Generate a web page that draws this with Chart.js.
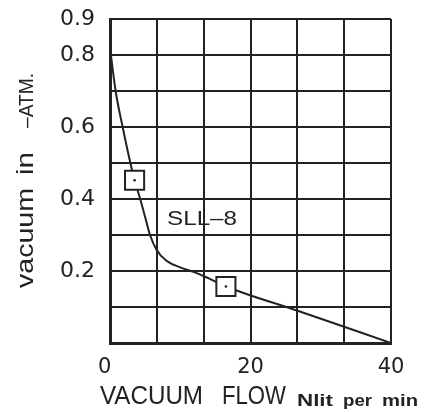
<!DOCTYPE html>
<html><head><meta charset="utf-8">
<script src="https://cdn.jsdelivr.net/npm/chart.js@4"></script>
<style>html,body{margin:0;padding:0;background:#fff}#wrap{width:428px;height:412px}</style>
</head><body><div id="wrap"><canvas id="c" width="428" height="412"></canvas></div>
<script>
// ---- data ----
const flowX   = [0,    0.8,  1.8,  2.9,  3.5,   4.3,  5.0,  5.7,  6.6,  8.0,   10.0, 12.0,  14.0, 16.5,  26.5,  40];
const vacuumY = [0.82, 0.70, 0.60, 0.50, 0.452, 0.40, 0.35, 0.30, 0.26, 0.229, 0.21, 0.197, 0.18, 0.157, 0.091, 0];
const markerX = [3.5, 16.5];
const markerY = [0.452, 0.157];
const xTickLabels = [0, 20, 40];
const yTickLabels = [0.2, 0.4, 0.6, 0.8, 0.9];
const xGridCount = 6;
const seriesLabel = 'SLL\u20138';

const ink = '#222';
Chart.defaults.font.family = "'DejaVu Sans', sans-serif";
Chart.defaults.color = ink;

function fitText(ctx, text, x, y, font, width, rot) {
  ctx.save();
  ctx.font = font;
  const w = ctx.measureText(text).width;
  ctx.translate(x, y);
  if (rot) ctx.rotate(rot);
  ctx.scale(width / w, 1);
  ctx.textAlign = 'left';
  ctx.textBaseline = 'alphabetic';
  ctx.fillText(text, 0, 0);
  ctx.restore();
}

const textPlugin = {
  id: 'texts',
  afterDraw(chart) {
    const ctx = chart.ctx;
    const xs = chart.scales.x, ys = chart.scales.y;
    ctx.save();
    ctx.fillStyle = ink;
    const big = "25px 'Liberation Sans', Arial, sans-serif";
    const small = "bold 16px 'Liberation Sans', Arial, sans-serif";
    fitText(ctx, 'VACUUM', 100, 404, big, 103);
    fitText(ctx, 'FLOW', 222, 404, big, 64);
    fitText(ctx, 'Nlit', 297, 406, small, 36);
    fitText(ctx, 'per', 343, 406, small, 29);
    fitText(ctx, 'min', 382, 406, small, 36);
    // series label
    fitText(ctx, seriesLabel, xs.getPixelForValue(13.1) - 35, ys.getPixelForValue(0.345) + 6,
            "21px 'Liberation Sans', Arial, sans-serif", 70);
    // y title (rotated)
    const r = -Math.PI / 2;
    fitText(ctx, 'vacuum', 33, 288, "24px 'Liberation Sans', Arial, sans-serif", 100, r);
    fitText(ctx, 'in', 33, 175, "24px 'Liberation Sans', Arial, sans-serif", 23, r);
    fitText(ctx, '\u2013ATM.', 33, 128, "21px 'Liberation Sans', Arial, sans-serif", 55, r);
    ctx.restore();
  }
};

const points  = flowX.map((x, i) => ({x, y: vacuumY[i]}));
const markers = markerX.map((x, i) => ({x, y: markerY[i]}));

new Chart(document.getElementById('c'), {
  type: 'line',
  data: { datasets: [
    {label: 'dot', data: markers, showLine: false, pointStyle: 'circle', pointRadius: 1.3,
     pointBackgroundColor: ink, pointBorderWidth: 0},
    {label: 'mark', data: markers, showLine: false, pointStyle: 'rect', pointRadius: 13.5,
     pointBackgroundColor: '#fff', pointBorderColor: ink, pointBorderWidth: 2},
    {label: seriesLabel, data: points, borderColor: ink, borderWidth: 2, pointRadius: 0,
     cubicInterpolationMode: 'monotone', fill: false}
  ]},
  options: {
    responsive: false, animation: false, devicePixelRatio: 1,
    layout: {padding: 0},
    plugins: {legend: {display: false}, tooltip: {enabled: false}},
    scales: {
      x: {
        type: 'linear', min: 0, max: 40,
        afterBuildTicks(s) { s.ticks = Array.from({length: xGridCount + 1}, (_, i) => ({value: s.max * i / xGridCount})); },
        afterFit(s) { s.height = 69; s.paddingLeft = 0; s.paddingRight = 37; },
        grid: {color: ink, lineWidth: 2, drawTicks: false},
        border: {color: ink, width: 3},
        ticks: {padding: 12, font: {size: 21}, maxRotation: 0, autoSkip: false,
          callback(v) {
            const r = Math.round(v);
            if (!(Math.abs(v - r) < 1e-6 && xTickLabels.includes(r))) return '';
            return r === 0 ? '0\u2002' : String(r);
          }}
      },
      y: {
        min: 0, max: 0.9,
        afterFit(s) { s.width = 110; s.paddingTop = 19; s.paddingBottom = 0; },
        grid: {color: ink, lineWidth: 2, drawTicks: false},
        border: {color: ink, width: 3},
        ticks: {stepSize: 0.1, padding: 15, font: {size: 22}, autoSkip: false,
          callback(v) { const r = Math.round(v * 10) / 10; return yTickLabels.includes(r) ? String(r) : ''; }}
      }
    }
  },
  plugins: [textPlugin]
});
</script>
</body></html>
